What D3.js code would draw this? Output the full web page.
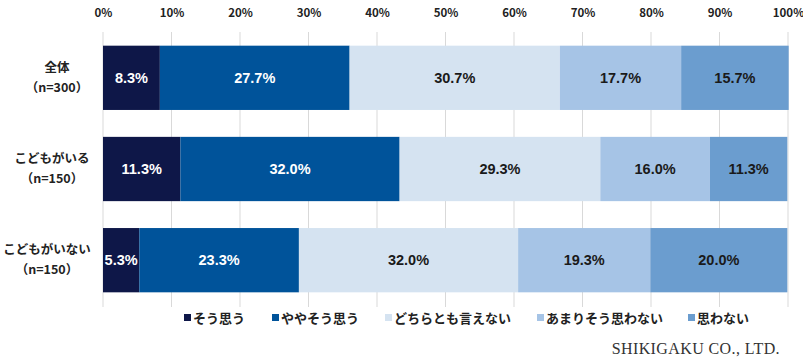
<!DOCTYPE html>
<html><head><meta charset="utf-8">
<script src="https://cdn.jsdelivr.net/npm/d3@7"></script>
<style>
html,body{margin:0;padding:0;background:#fff;}
svg{display:block;}
</style></head>
<body>
<svg id="chart" width="803" height="360"></svg>
<script>
const categories = ["全体", "こどもがいる", "こどもがいない"];
const sampleSizes = ["（n=300）", "（n=150）", "（n=150）"];
const seriesNames = ["そう思う", "ややそう思う", "どちらとも言えない", "あまりそう思わない", "思わない"];
const soOmou = [8.3, 11.3, 5.3];
const yayaSoOmou = [27.7, 32.0, 23.3];
const dochiraTomo = [30.7, 29.3, 32.0];
const amariSoOmowanai = [17.7, 16.0, 19.3];
const omowanai = [15.7, 11.3, 20.0];
const tickValues = [0, 10, 20, 30, 40, 50, 60, 70, 80, 90, 100];
const colors = ["#0e1748", "#00539a", "#d5e3f1", "#a6c4e6", "#6b9dcf"];
const labelColors = ["#ffffff", "#ffffff", "#1a1a1a", "#1a1a1a", "#1a1a1a"];

const seriesValues = [soOmou, yayaSoOmou, dochiraTomo, amariSoOmowanai, omowanai];
const rows = categories.map((c, i) => {
  const o = {cat: c};
  seriesNames.forEach((s, j) => o[s] = seriesValues[j][i]);
  return o;
});

const svg = d3.select("#chart");
const x = d3.scaleLinear().domain([0, 100]).range([103, 788]);
const y = d3.scaleBand().domain(categories).range([32, 306]).paddingInner(0.295).paddingOuter(0.15);

// grid
svg.append("g").selectAll("line").data(tickValues).join("line")
  .attr("x1", d => x(d)).attr("x2", d => x(d))
  .attr("y1", 32).attr("y2", 307)
  .attr("stroke", "#d9d9d9").attr("stroke-width", 1);

// top axis labels
const axis = d3.axisTop(x).tickValues(tickValues).tickFormat(d => d + "%").tickSize(0);
const ag = svg.append("g").attr("transform", "translate(0,20)").call(axis);
ag.select(".domain").remove();
ag.selectAll("text").attr("font-family", "'Noto Sans CJK JP', 'Noto Sans', sans-serif")
  .attr("font-size", 11.5).attr("font-weight", "bold").attr("fill", "#222");

// stacked bars
const stack = d3.stack().keys(seriesNames)(rows);
const groups = svg.append("g").selectAll("g").data(stack).join("g")
  .attr("fill", (d, i) => colors[i]);
groups.selectAll("rect").data(d => d).join("rect")
  .attr("x", d => x(d[0]))
  .attr("width", d => x(d[1]) - x(d[0]))
  .attr("y", d => y(d.data.cat))
  .attr("height", y.bandwidth());

// value labels
const lg = svg.append("g");
stack.forEach((s, i) => {
  lg.selectAll(null).data(s).join("text")
    .attr("x", d => (x(d[0]) + x(d[1])) / 2)
    .attr("y", d => y(d.data.cat) + y.bandwidth() / 2)
    .attr("dy", "0.36em")
    .attr("text-anchor", "middle")
    .attr("font-family", "'Liberation Sans', Arial, sans-serif")
    .attr("font-weight", "bold")
    .attr("font-size", 14.5)
    .attr("fill", labelColors[i])
    .text(d => (d[1] - d[0]).toFixed(1) + "%");
});

// category labels (lines centred within a block whose right edge sits near the axis)
const labelCenters = [57, 52, 47];
const cg = svg.append("g").attr("font-family", "'Noto Sans CJK JP', sans-serif")
  .attr("font-weight", "bold").attr("font-size", 12.5).attr("fill", "#222").attr("text-anchor", "middle");
categories.forEach((c, i) => {
  const cy = y(c) + y.bandwidth() / 2;
  cg.append("text").attr("x", labelCenters[i]).attr("y", cy - 10.5).attr("dy", "0.35em").text(c);
  cg.append("text").attr("x", labelCenters[i]).attr("y", cy + 9.5).attr("dy", "0.35em").text(sampleSizes[i]);
});

// legend
const legendX = [184, 272, 385, 537, 688];
const leg = svg.append("g");
seriesNames.forEach((s, i) => {
  leg.append("rect").attr("x", legendX[i]).attr("y", 314).attr("width", 7).attr("height", 7).attr("fill", colors[i]);
  leg.append("text").attr("x", legendX[i] + 9).attr("y", 318).attr("dy", "0.35em")
    .attr("font-family", "'Noto Sans CJK JP', sans-serif").attr("font-weight", "bold")
    .attr("font-size", 13).attr("fill", "#222").text(s);
});

// watermark
svg.append("text").attr("x", 780).attr("y", 354).attr("text-anchor", "end")
  .attr("font-family", "'Liberation Serif', 'Times New Roman', serif")
  .attr("font-size", 16).attr("letter-spacing", 0.4).attr("fill", "#333").text("SHIKIGAKU CO., LTD.");
</script>
</body></html>
